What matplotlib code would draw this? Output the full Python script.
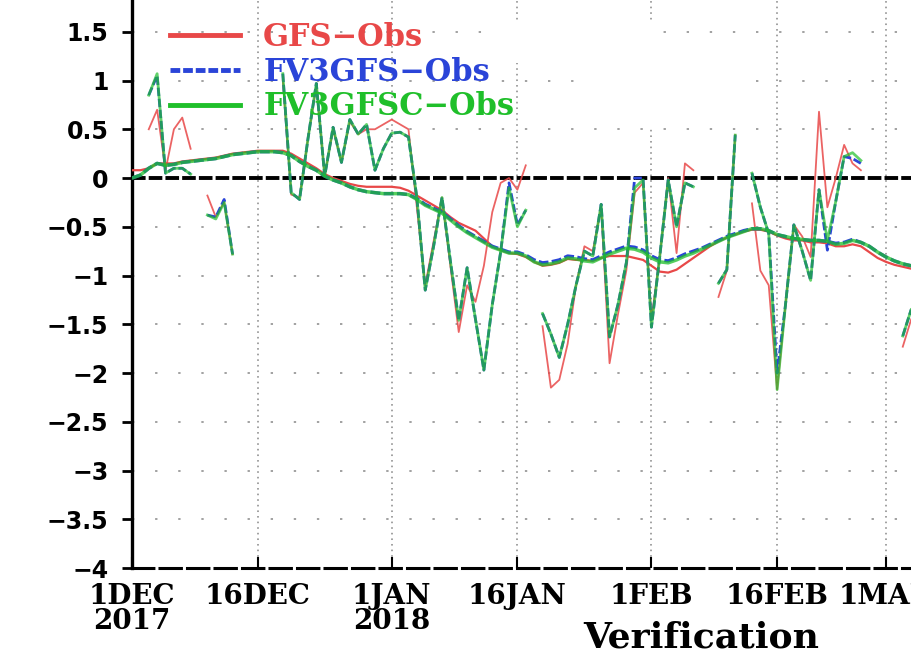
import numpy as np
import pandas as pd
import matplotlib
matplotlib.use('Agg')
import matplotlib.pyplot as plt
from matplotlib.lines import Line2D
from matplotlib.patches import Rectangle

nan = np.nan

# ---------------- data ----------------
start_date = '2017-12-01'
n_days = 94
dates = pd.date_range(start_date, periods=n_days, freq='D')

gfs_daily = [nan, nan, 0.50, 0.70, 0.08, 0.50, 0.62, 0.30, nan, -0.18,
             -0.40, -0.25, -0.78, nan, nan, nan, nan, nan, 1.00, -0.17,
             -0.20, 0.40, 0.95, 0.02, 0.50, 0.16, 0.58, 0.45, 0.50, 0.50,
             0.55, 0.60, 0.55, 0.50, -0.30, -1.10, -0.65, -0.20, -0.90, -1.58,
             -1.10, -1.27, -0.90, -0.35, -0.05, 0.00, -0.12, 0.13, nan, -1.52,
             -2.15, -2.07, -1.70, -1.10, -0.70, -0.75, -0.30, -1.90, -1.40, -0.95,
             -0.15, -0.05, -1.45, -0.80, 0.00, -0.77, 0.15, 0.08, nan, nan,
             -1.22, -0.95, 0.44, nan, -0.26, -0.95, -1.10, -2.17, -1.30, -0.48,
             -0.60, -0.81, 0.68, -0.30, 0.00, 0.34, 0.15, 0.08, nan, nan,
             nan, nan, -1.73, -1.45]

fv3gfs_daily = [nan, nan, 0.85, 1.05, 0.05, 0.10, 0.10, 0.04, nan, -0.38,
                -0.40, -0.22, -0.78, nan, nan, nan, nan, nan, 1.07, -0.15,
                -0.22, 0.40, 0.97, 0.02, 0.52, 0.16, 0.60, 0.45, 0.55, 0.08,
                0.30, 0.46, 0.47, 0.42, -0.20, -1.15, -0.70, -0.20, -0.85, -1.46,
                -0.92, -1.45, -1.97, -1.30, -0.76, -0.05, -0.48, -0.33, nan, -1.39,
                -1.60, -1.84, -1.50, -1.10, -0.75, -0.80, -0.27, -1.63, -1.30, -0.87,
                0.00, 0.00, -1.53, -0.80, -0.02, -0.50, -0.05, -0.09, nan, nan,
                -1.08, -0.94, 0.44, nan, 0.05, -0.30, -0.57, -2.00, -1.30, -0.48,
                -0.75, -1.05, -0.12, -0.74, -0.24, 0.22, 0.20, 0.15, nan, nan,
                nan, nan, -1.62, -1.35]

fv3gfsc_daily = [nan, nan, 0.85, 1.07, 0.05, 0.10, 0.10, 0.04, nan, -0.38,
                 -0.42, -0.25, -0.78, nan, nan, nan, nan, nan, 1.07, -0.15,
                 -0.22, 0.40, 0.97, 0.02, 0.52, 0.16, 0.60, 0.45, 0.55, 0.08,
                 0.30, 0.46, 0.47, 0.42, -0.20, -1.15, -0.70, -0.20, -0.85, -1.46,
                 -0.92, -1.45, -1.97, -1.30, -0.76, -0.10, -0.50, -0.33, nan, -1.39,
                 -1.60, -1.84, -1.50, -1.10, -0.75, -0.80, -0.27, -1.63, -1.30, -0.87,
                 -0.10, -0.02, -1.53, -0.80, -0.02, -0.50, -0.05, -0.09, nan, nan,
                 -1.08, -0.94, 0.44, nan, 0.05, -0.30, -0.57, -2.17, -1.30, -0.48,
                 -0.75, -1.05, -0.12, -0.64, -0.24, 0.22, 0.26, 0.18, nan, nan,
                 nan, nan, -1.62, -1.35]

gfs_mean = [0.08, 0.08, 0.10, 0.15, 0.15, 0.15, 0.17, 0.18, 0.19, 0.20,
            0.21, 0.23, 0.25, 0.26, 0.27, 0.28, 0.28, 0.28, 0.28, 0.25,
            0.20, 0.15, 0.10, 0.04, 0.00, -0.03, -0.06, -0.08, -0.09, -0.09,
            -0.09, -0.09, -0.10, -0.13, -0.18, -0.23, -0.28, -0.33, -0.40, -0.46,
            -0.50, -0.54, -0.62, -0.70, -0.74, -0.77, -0.78, -0.81, -0.86, -0.90,
            -0.89, -0.87, -0.83, -0.84, -0.84, -0.85, -0.82, -0.80, -0.80, -0.80,
            -0.82, -0.84, -0.90, -0.96, -0.97, -0.94, -0.88, -0.82, -0.76, -0.70,
            -0.65, -0.61, -0.58, -0.55, -0.53, -0.53, -0.55, -0.59, -0.62, -0.64,
            -0.64, -0.66, -0.66, -0.67, -0.70, -0.70, -0.68, -0.70, -0.76, -0.82,
            -0.86, -0.89, -0.91, -0.93]

fv3gfs_mean = [0.00, 0.03, 0.10, 0.15, 0.13, 0.14, 0.16, 0.17, 0.18, 0.19,
               0.20, 0.22, 0.24, 0.25, 0.26, 0.27, 0.27, 0.27, 0.26, 0.23,
               0.17, 0.12, 0.08, 0.02, -0.02, -0.05, -0.09, -0.12, -0.14, -0.15,
               -0.16, -0.16, -0.16, -0.17, -0.21, -0.27, -0.31, -0.35, -0.42, -0.49,
               -0.55, -0.60, -0.65, -0.70, -0.73, -0.76, -0.76, -0.79, -0.84, -0.87,
               -0.86, -0.84, -0.80, -0.81, -0.83, -0.84, -0.80, -0.76, -0.73, -0.70,
               -0.71, -0.74, -0.80, -0.84, -0.85, -0.82, -0.78, -0.75, -0.72, -0.68,
               -0.64, -0.60, -0.57, -0.54, -0.52, -0.52, -0.54, -0.58, -0.60, -0.62,
               -0.63, -0.64, -0.64, -0.65, -0.67, -0.66, -0.63, -0.66, -0.70, -0.76,
               -0.81, -0.85, -0.88, -0.90]

fv3gfsc_mean = [0.00, 0.03, 0.10, 0.15, 0.13, 0.14, 0.16, 0.17, 0.18, 0.19,
                0.20, 0.22, 0.24, 0.25, 0.26, 0.27, 0.27, 0.27, 0.26, 0.23,
                0.17, 0.12, 0.08, 0.02, -0.02, -0.05, -0.09, -0.12, -0.14, -0.15,
                -0.16, -0.16, -0.16, -0.17, -0.22, -0.28, -0.32, -0.36, -0.43, -0.50,
                -0.56, -0.61, -0.66, -0.71, -0.74, -0.77, -0.77, -0.80, -0.86, -0.89,
                -0.88, -0.86, -0.82, -0.83, -0.85, -0.86, -0.82, -0.78, -0.75, -0.72,
                -0.73, -0.76, -0.82, -0.86, -0.87, -0.84, -0.80, -0.77, -0.73, -0.69,
                -0.65, -0.61, -0.58, -0.55, -0.52, -0.52, -0.54, -0.58, -0.60, -0.62,
                -0.63, -0.64, -0.64, -0.65, -0.68, -0.67, -0.64, -0.66, -0.70, -0.76,
                -0.81, -0.85, -0.88, -0.90]

tick_dates = ['2017-12-01', '2017-12-16', '2018-01-01', '2018-01-16',
              '2018-02-01', '2018-02-16', '2018-03-01']
tick_labels = ['1DEC\n2017', '16DEC', '1JAN\n2018', '16JAN', '1FEB', '16FEB', '1MAR']
y_ticks = [-4, -3.5, -3, -2.5, -2, -1.5, -1, -0.5, 0, 0.5, 1, 1.5]
series_names = ['GFS\u2212Obs', 'FV3GFS\u2212Obs', 'FV3GFSC\u2212Obs']

# ---------------- style ----------------
RED = '#e84848'
BLUE = '#2a44d8'
GREEN = '#1fbf2a'
GRID = '#9a9a9a'
W, H = 912, 658

fig = plt.figure(figsize=(W / 100, H / 100), dpi=100)
fig.patch.set_facecolor('white')
ax = fig.add_axes([132 / W, 90 / H, (W - 132) / W, 568 / H])

t0 = pd.Timestamp(start_date)
ax.set_xlim(t0, t0 + pd.Timedelta(days=93.1))
ax.set_ylim(-4, 1.826)

# grid
for yv in y_ticks:
    if yv in (0, -4):
        continue
    ax.axhline(yv, color=GRID, lw=1.3, dashes=(1.3, 11.5), zorder=1)
for td in tick_dates[1:]:
    ax.axvline(pd.Timestamp(td), color=GRID, lw=1.3, dashes=(0.9, 2.2), zorder=1)

# white patches behind legend area
for (x0, y0, x1, y1) in [(492, 22, 657, 63), (588, 63, 750, 85), (605, 85, 767, 127)]:
    ax.add_patch(Rectangle((x0 / W, 1 - y1 / H), (x1 - x0) / W, (y1 - y0) / H,
                           transform=fig.transFigure, facecolor='white',
                           edgecolor='none', zorder=1.5))

# zero line
ax.axhline(0, color='black', lw=2.8, dashes=(3.5, 0.8), zorder=2)

# series
ax.plot(dates, gfs_mean, color=RED, lw=1.6, zorder=3)
ax.plot(dates, gfs_daily, color=RED, lw=1.3, alpha=0.85, zorder=3)
ax.plot(dates, fv3gfs_mean, color=BLUE, lw=2.4, dashes=(3, 1), zorder=4)
ax.plot(dates, fv3gfs_daily, color=BLUE, lw=2.0, dashes=(3, 1), zorder=4)
ax.plot(dates, fv3gfsc_mean, color=GREEN, lw=2.5, alpha=0.75, zorder=5)
ax.plot(dates, fv3gfsc_daily, color=GREEN, lw=2.0, alpha=0.7, zorder=5)

# spines
for s in ('top', 'right'):
    ax.spines[s].set_visible(False)
ax.spines['left'].set_linewidth(2.4)
ax.spines['bottom'].set_linewidth(2.2)
ax.spines['bottom'].set_linestyle((0, (7, 2)))

# ticks
ax.set_yticks(y_ticks)
ax.set_yticklabels([('%g' % v).replace('-', '\u2212') for v in y_ticks],
                   fontfamily='DejaVu Sans', fontweight='bold', fontsize=17)
ax.tick_params(axis='y', direction='out', length=7, width=2, pad=10)
ax.set_xticks([pd.Timestamp(d) for d in tick_dates])
ax.set_xticklabels(tick_labels, fontfamily='DejaVu Serif', fontweight='bold',
                   fontsize=20, linespacing=0.9)
ax.tick_params(axis='x', direction='in', length=8, width=1.5, pad=11)

# legend
handles = [Line2D([], [], color=RED, lw=3.5),
           Line2D([], [], color=BLUE, lw=3.5, dashes=(2, 0.6)),
           Line2D([], [], color=GREEN, lw=3.5)]
leg = ax.legend(handles, series_names, loc='upper left',
                bbox_to_anchor=(170 / W, 1 - 22 / H), bbox_transform=fig.transFigure,
                frameon=False, labelcolor='linecolor',
                prop=dict(family='DejaVu Serif', weight='bold', size=22),
                handlelength=2.3, handletextpad=0.75, labelspacing=0.12,
                borderaxespad=0, borderpad=0)
leg.set_zorder(6)

fig.text(583 / W, 1 - 648 / H, 'Verification', ha='left', va='baseline',
         fontfamily='DejaVu Serif', fontweight='bold', fontsize=26)

fig.savefig('out.png', dpi=100, facecolor='white')
